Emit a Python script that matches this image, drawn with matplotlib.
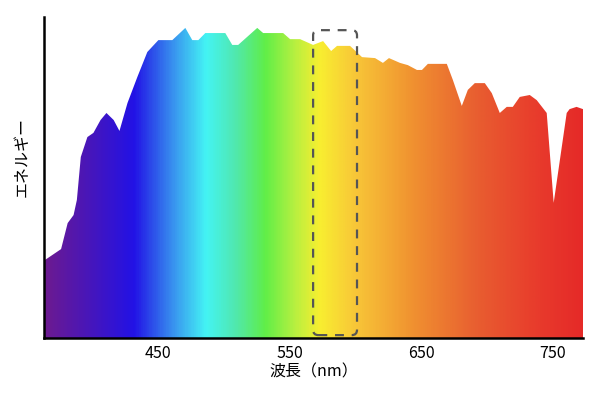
import numpy as np
import matplotlib.pyplot as plt
from matplotlib.colors import LinearSegmentedColormap
from matplotlib.patches import FancyBboxPatch

plt.rcParams['font.family'] = ['Noto Sans CJK JP', 'DejaVu Sans']

# spectrum (wavelength nm, relative energy)
wavelength = [363, 376, 381, 385.5, 388, 391, 396, 400.6, 406, 410.5, 416, 420.4,
              426.5, 434, 441.6, 450, 460.6, 470.5, 475.8, 480.4, 485.7, 500.9,
              506.2, 510.7, 525.2, 529.7, 544.9, 550.2, 557.8, 567.7, 575.3, 581.4,
              585.9, 595.8, 604.9, 614.8, 620.8, 625.4, 633.8, 639.8, 646.7, 650.5,
              655, 669.4, 674, 680.8, 685.4, 690.7, 698.3, 703.6, 709.7, 715, 719.6,
              724.9, 732.5, 737.8, 745.4, 750.7, 760.6, 762.8, 768.1, 773]
energy = [0.241, 0.277, 0.358, 0.383, 0.43, 0.564, 0.626, 0.639, 0.679, 0.701, 0.679, 0.645,
          0.732, 0.813, 0.891, 0.928, 0.928, 0.966, 0.928, 0.928, 0.95, 0.95,
          0.913, 0.913, 0.966, 0.95, 0.95, 0.931, 0.931, 0.913, 0.925, 0.894,
          0.91, 0.91, 0.875, 0.872, 0.857, 0.872, 0.857, 0.85, 0.835, 0.835,
          0.854, 0.854, 0.804, 0.723, 0.773, 0.794, 0.794, 0.763, 0.701, 0.72, 0.72,
          0.751, 0.757, 0.741, 0.701, 0.421, 0.701, 0.713, 0.72, 0.713]

# colour stops of the spectrum gradient
stop_nm = [363, 431, 463, 486, 508, 531, 554, 573, 599, 645, 695, 741, 773]
stop_colors = ['#6c1a90', '#2212e6', '#3a9cf0', '#44f4f4', '#50e8b0', '#60ee48',
               '#b8f040', '#f8ee30', '#f8c838', '#f09030', '#e85c30', '#e83a2c', '#e52a28']

xticks = [450, 550, 650, 750]
highlight = (567.7, 601.1)

x0, x1 = 363, 773
cmap = LinearSegmentedColormap.from_list(
    'spec', [((s - x0) / (x1 - x0), c) for s, c in zip(stop_nm, stop_colors)])

fig = plt.figure(figsize=(6, 3.94), dpi=100)
ax = fig.add_axes([44 / 600, 56 / 394, 539 / 600, 321 / 394])

poly = ax.fill_between(wavelength, energy, 0, color='none', lw=0)
grad = np.linspace(x0, x1, 600).reshape(1, -1)
im = ax.imshow(grad, extent=[x0, x1, 0, 1], aspect='auto', cmap=cmap,
               vmin=x0, vmax=x1, origin='lower', interpolation='bilinear')
im.set_clip_path(poly.get_paths()[0], transform=ax.transData)

# dashed highlight box
box = FancyBboxPatch((highlight[0], 0.009), highlight[1] - highlight[0], 0.95,
                     boxstyle='round,pad=0,rounding_size=4', mutation_aspect=0.0041,
                     fill=False, ec='#555555', lw=1.6, ls=(0, (4, 3.5)), zorder=5)
ax.add_patch(box)

ax.set_xlim(x0, x1)
ax.set_ylim(0, 1)
ax.set_xticks(xticks)
ax.set_yticks([])
ax.tick_params(axis='x', length=0, pad=5, labelsize=11.5)
for s in ['top', 'right']:
    ax.spines[s].set_visible(False)
for s in ['left', 'bottom']:
    ax.spines[s].set_linewidth(1.8)
    ax.spines[s].set_color('black')

ax.set_xlabel('波長（nm）', fontsize=11.5, labelpad=1)
fig.text(22 / 600, 1 - 157 / 394, 'エネルギー', rotation=90, fontsize=11.5,
         ha='center', va='center')

fig.savefig('out.png', dpi=100)
